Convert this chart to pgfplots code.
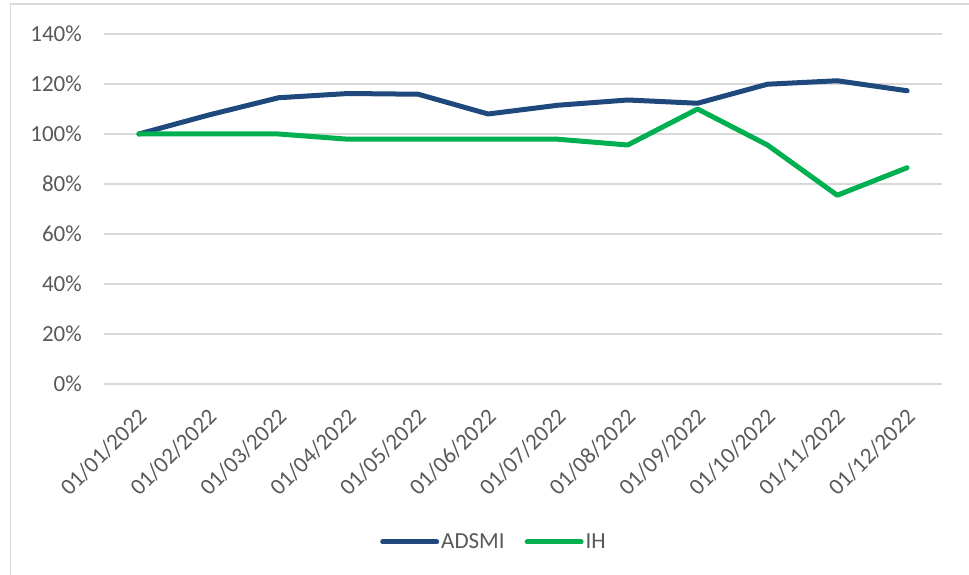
\documentclass[border=0pt]{standalone}
\usepackage{fontspec}
\setmainfont{Carlito}
\usepackage{pgfplots}
\pgfplotsset{compat=1.18}
\definecolor{adsmi}{HTML}{1F497D}
\definecolor{ih}{HTML}{00B050}
\definecolor{gridc}{HTML}{D9D9D9}
\definecolor{txt}{HTML}{595959}
\begin{document}
\begin{tikzpicture}[x=1pt,y=1pt]
\useasboundingbox (0,0) rectangle (969,575);
\draw[gridc, line width=1.2pt] (10.5,-5) -- (10.5,571) -- (975,571);
\begin{axis}[
  at={(104pt,191pt)}, anchor=south west,
  scale only axis, width=838pt, height=350pt,
  xmin=-0.5, xmax=11.5, ymin=0, ymax=140,
  axis line style={draw=none},
  major tick length=0pt,
  xtick={0,...,11},
  xticklabels={01/01/2022,01/02/2022,01/03/2022,01/04/2022,01/05/2022,01/06/2022,01/07/2022,01/08/2022,01/09/2022,01/10/2022,01/11/2022,01/12/2022},
  xtick style={draw=none},
  extra x ticks={-0.5,0.5,...,11.5},
  extra x tick labels={},
  extra x tick style={major tick length=7pt, tick align=outside, xmajorgrids=false,
     tick style={draw=gridc, line width=1.2pt}},
  ytick={0,20,...,140},
  yticklabels={0\%,20\%,40\%,60\%,80\%,100\%,120\%,140\%},
  ytick style={draw=none},
  ymajorgrids, grid style={gridc, line width=1.2pt},
  every tick label/.append style={font=\fontsize{23}{27}\selectfont, text=txt},
  yticklabel style={anchor=east, inner sep=0pt, xshift=-22pt},
  xticklabel style={inner sep=0pt, xshift=4pt, yshift=-29pt, rotate=45, anchor=east},
  clip=false,
  legend style={at={(0.4654,-0.4514)}, anchor=center, draw=none, fill=none,
    legend columns=2, font=\fontsize{23}{27}\selectfont, text=txt,
    /tikz/every even column/.append style={column sep=18pt},
    nodes={inner sep=2pt}},
  legend image code/.code={\draw[line cap=round, line width=5pt, #1] (0pt,0pt) -- (54pt,0pt);},
]
\addplot[adsmi, line width=5pt, line join=round, line cap=round] coordinates {
(0,100) (1,107.6) (2,114.5) (3,116.2) (4,115.9) (5,108) (6,111.5) (7,113.6) (8,112.3) (9,119.9) (10,121.3) (11,117.3)};
\addlegendentry{ADSMI}
\addplot[ih, line width=5pt, line join=round, line cap=round] coordinates {
(0,100) (1,100) (2,100) (3,97.9) (4,97.9) (5,97.9) (6,97.9) (7,95.6) (8,110) (9,95.6) (10,75.5) (11,86.5)};
\addlegendentry{IH}
\end{axis}
\end{tikzpicture}
\end{document}
